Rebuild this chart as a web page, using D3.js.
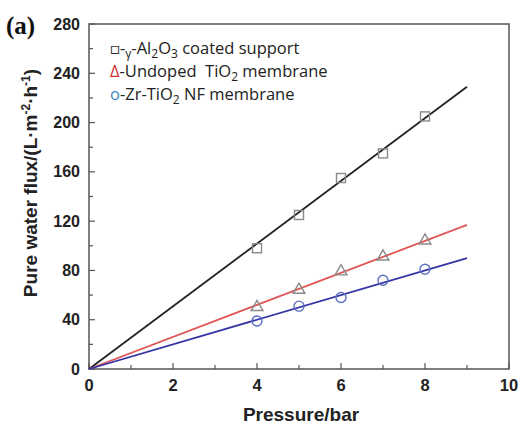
<!DOCTYPE html>
<html><head><meta charset="utf-8">
<script src="https://cdn.jsdelivr.net/npm/d3@7"></script>
<style>body{margin:0;background:#fff}svg{display:block}</style>
</head><body><svg id="c" width="520" height="427"></svg>
<script>
const pressure = [4, 5, 6, 7, 8];
const aluminaFlux = [98, 125, 155, 175, 205];
const undopedFlux = [51, 65, 80, 92, 105];
const zrFlux = [39, 51, 58, 72, 81];
const fitX = [0, 9];
const aluminaFit = [0, 229];
const undopedFit = [0, 117];
const zrFit = [0, 90];
const xTicks = [0, 2, 4, 6, 8, 10];
const yTicks = [0, 40, 80, 120, 160, 200, 240, 280];

const svg = d3.select("#c");
const L = 89, R = 509, T = 24, B = 369;
const x = d3.scaleLinear().domain([0, 10]).range([L, R]);
const y = d3.scaleLinear().domain([0, 280]).range([B, T]);

svg.append("rect").attr("x", L).attr("y", T).attr("width", R - L).attr("height", B - T)
  .attr("fill", "none").attr("stroke", "#555").attr("stroke-width", 1.5);

const minorX = d3.range(0, 10.01, 1), minorY = d3.range(0, 281, 20);
svg.append("g").selectAll("line").data(minorX).join("line")
  .attr("x1", d => x(d)).attr("x2", d => x(d)).attr("y1", B).attr("y2", d => B - (d % 2 === 0 ? 6 : 4))
  .attr("stroke", "#555").attr("stroke-width", 1.2);
svg.append("g").selectAll("line").data(minorY).join("line")
  .attr("y1", d => y(d)).attr("y2", d => y(d)).attr("x1", L).attr("x2", d => L + (d % 40 === 0 ? 6 : 4))
  .attr("stroke", "#555").attr("stroke-width", 1.2);

svg.append("g").selectAll("text").data(xTicks).join("text")
  .attr("x", d => x(d)).attr("y", 391).attr("text-anchor", "middle")
  .attr("font-family", "Liberation Sans, Arial, sans-serif").attr("font-weight", "bold").attr("font-size", 16.5)
  .attr("fill", "#222").text(d => d);
svg.append("g").selectAll("text").data(yTicks).join("text")
  .attr("x", 80).attr("y", d => y(d) + 5.5).attr("text-anchor", "end")
  .attr("font-family", "Liberation Sans, Arial, sans-serif").attr("font-weight", "bold").attr("font-size", 16)
  .attr("fill", "#222").text(d => d);

svg.append("text").attr("x", x(5) + 2).attr("y", 421).attr("text-anchor", "middle")
  .attr("font-family", "Liberation Sans, Arial, sans-serif").attr("font-weight", "bold").attr("font-size", 19)
  .attr("fill", "#222").text("Pressure/bar");
const yt = svg.append("text").attr("transform", `translate(37,183) rotate(-90)`)
  .attr("text-anchor", "middle").attr("font-family", "Liberation Sans, Arial, sans-serif")
  .attr("font-weight", "bold").attr("font-size", 19).attr("fill", "#222");
yt.append("tspan").text("Pure water flux/(L·m");
yt.append("tspan").attr("baseline-shift", "super").attr("font-size", 12).text("-2");
yt.append("tspan").text("·h");
yt.append("tspan").attr("baseline-shift", "super").attr("font-size", 12).text("-1");
yt.append("tspan").text(")");

svg.append("text").attr("x", 6).attr("y", 34).attr("font-family", "Liberation Serif, Times New Roman, serif")
  .attr("font-weight", "bold").attr("font-size", 25).attr("fill", "#111").text("(a)");

const line = d3.line().x(d => x(d[0])).y(d => y(d[1]));
const fits = [[aluminaFit, "#222"], [undopedFit, "#e05555"], [zrFit, "#3535a5"]];
fits.forEach(([f, c]) => {
  svg.append("path").attr("d", line(fitX.map((v, i) => [v, f[i]]))).attr("fill", "none")
    .attr("stroke", c).attr("stroke-width", 1.8);
});

const mk = "#8a8a8a";
svg.append("g").selectAll("rect").data(pressure).join("rect")
  .attr("x", (d) => x(d) - 4.5).attr("y", (d, i) => y(aluminaFlux[i]) - 4.5).attr("width", 9).attr("height", 9)
  .attr("fill", "none").attr("stroke", mk).attr("stroke-width", 1.4);
const tri = d3.symbol().type(d3.symbolTriangle).size(60);
svg.append("g").selectAll("path").data(pressure).join("path")
  .attr("transform", (d, i) => `translate(${x(d)},${y(undopedFlux[i]) + 1})`).attr("d", tri)
  .attr("fill", "none").attr("stroke", mk).attr("stroke-width", 1.4);
svg.append("g").selectAll("circle").data(pressure).join("circle")
  .attr("cx", d => x(d)).attr("cy", (d, i) => y(zrFlux[i])).attr("r", 5)
  .attr("fill", "none").attr("stroke", "#5b6fc0").attr("stroke-width", 1.4);

const legend = [
  {sym: "□", col: "#333", parts: [["-", ""], ["γ", "sub"], ["-Al", ""], ["2", "sub"], ["O", ""], ["3", "sub"], [" coated support", ""]]},
  {sym: "Δ", col: "#d03030", parts: [["-Undoped  TiO", ""], ["2", "sub"], [" membrane", ""]]},
  {sym: "o", col: "#3a8ac0", parts: [["-Zr-TiO", ""], ["2", "sub"], [" NF membrane", ""]]}
];
legend.forEach((lg, i) => {
  const t = svg.append("text").attr("x", 110).attr("y", 54 + i * 23)
    .attr("font-family", "Open Sans, Lato, sans-serif").attr("font-size", 16.5).attr("fill", "#222")
    .attr("xml:space", "preserve");
  t.append("tspan").attr("fill", lg.col).text(lg.sym);
  lg.parts.forEach(([s, k]) => {
    const ts = t.append("tspan").text(s);
    if (k === "sub") ts.attr("font-size", 12).attr("dy", 4);
    else if (ts.node().previousSibling && ts.node().previousSibling.getAttribute("dy") === "4") ts.attr("dy", -4);
  });
});
</script></body></html>
